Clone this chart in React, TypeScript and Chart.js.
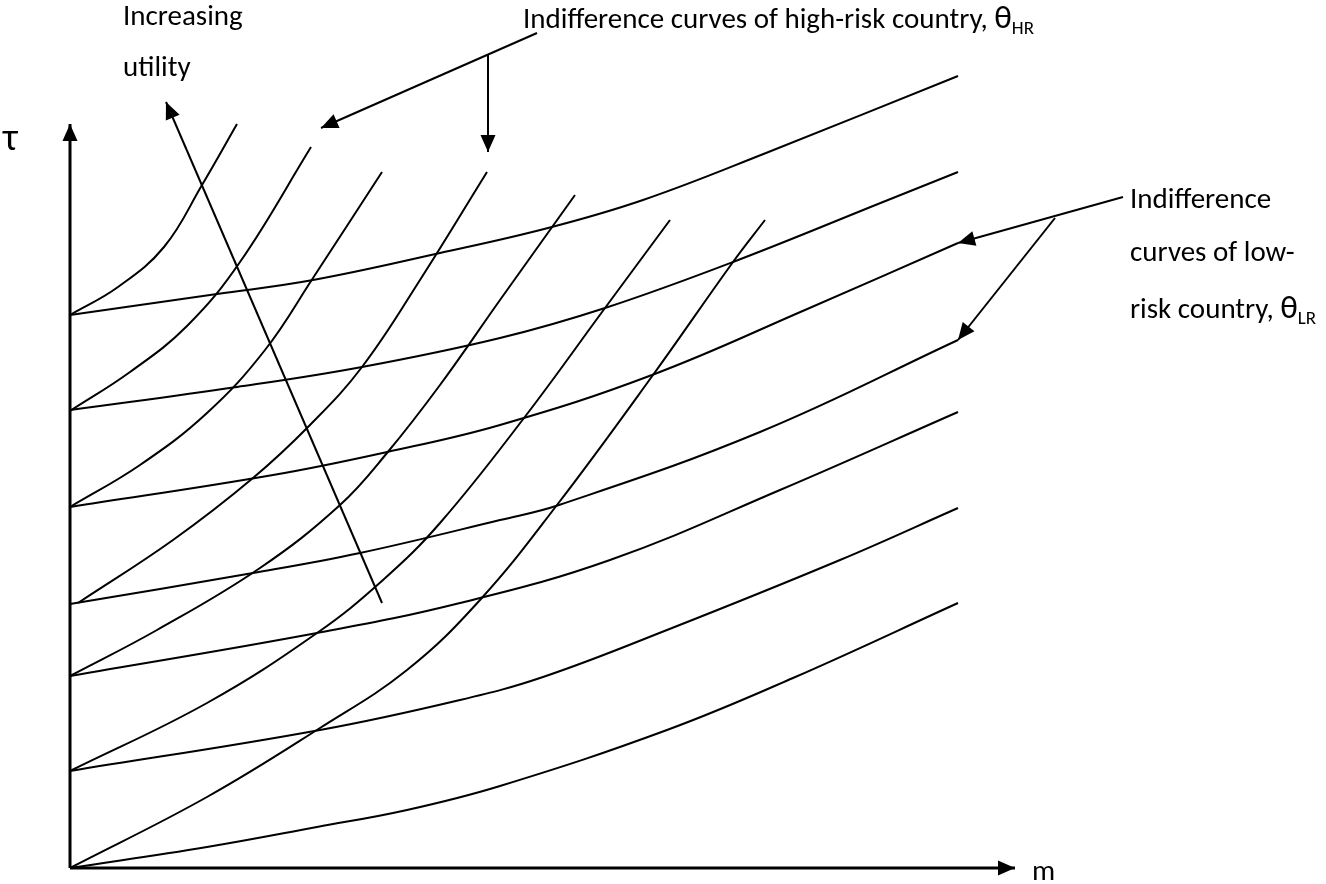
import { useEffect, useRef } from 'react';
import { Chart, registerables } from 'chart.js';

Chart.register(...registerables);

// ---------- data (m on the horizontal axis, tau on the vertical axis) ----------
// Low-risk country indifference curves (flatter)
const L1_M = [0, 1.47, 2.43, 3.7, 4.78, 5.73, 6.96, 8.88];
const L1_T = [5.53, 5.74, 5.88, 6.15, 6.4, 6.68, 7.15, 7.92];
const L2_M = [0, 1.67, 2.92, 4.3, 5.35, 6.63, 8.18, 8.88];
const L2_T = [4.58, 4.81, 5.01, 5.3, 5.6, 6.06, 6.68, 6.96];
const L3_M = [0, 2.03, 3.17, 4.3, 5.82, 7.35, 8.88];
const L3_T = [3.61, 3.93, 4.16, 4.43, 4.93, 5.58, 6.25];
const L4_M = [0, 1.83, 2.9, 4.3, 4.89, 6.9, 8.88];
const L4_T = [2.64, 2.95, 3.15, 3.48, 3.63, 4.36, 5.28];
const L5_M = [0, 2.47, 3.9, 5.4, 7.1, 8.88];
const L5_T = [1.92, 2.35, 2.65, 3.08, 3.78, 4.56];
const L6_M = [0, 2.5, 3.9, 4.73, 5.97, 7.7, 8.88];
const L6_T = [0.97, 1.38, 1.68, 1.91, 2.38, 3.08, 3.6];
const L7_M = [0, 1.37, 2.47, 3.37, 4.3, 5.97, 7.23, 8.88];
const L7_T = [0, 0.21, 0.41, 0.58, 0.82, 1.38, 1.9, 2.65];

// High-risk country indifference curves (steeper)
const H1_M = [0, 0.48, 0.94, 1.32, 1.67];
const H1_T = [5.53, 5.81, 6.21, 6.83, 7.44];
const H2_M = [0, 0.6, 1.17, 1.7, 2.41];
const H2_T = [4.57, 4.96, 5.42, 6.06, 7.21];
const H3_M = [0, 0.7, 1.37, 1.95, 2.43, 3.12];
const H3_T = [3.61, 4.03, 4.55, 5.18, 5.9, 6.96];
const H4_M = [0.08, 1.03, 1.83, 2.4, 2.92, 3.5, 4.17];
const H4_T = [2.65, 3.28, 3.9, 4.43, 5.01, 5.88, 6.96];
const H5_M = [0, 0.87, 1.9, 2.7, 3.17, 3.7, 4.3, 5.05];
const H5_T = [1.92, 2.38, 3.0, 3.63, 4.15, 4.83, 5.68, 6.73];
const H6_M = [0, 1.37, 2.47, 3.13, 3.7, 4.54, 5.35, 6.0];
const H6_T = [0.97, 1.65, 2.35, 2.88, 3.45, 4.5, 5.6, 6.48];
const H7_M = [0, 1.37, 2.5, 3.37, 4.1, 4.87, 5.83, 6.63, 6.95];
const H7_T = [0, 0.71, 1.4, 1.98, 2.68, 3.63, 4.93, 6.06, 6.48];

// Axes and pointer arrows (start -> tip)
const Y_AXIS_M = [0, 0];
const Y_AXIS_T = [0, 7.44];
const X_AXIS_M = [0, 9.45];
const X_AXIS_T = [0, 0];
const UTILITY_ARROW_M = [3.12, 0.96];
const UTILITY_ARROW_T = [2.65, 7.66];
const HR_ARROW1_M = [4.67, 2.51];
const HR_ARROW1_T = [8.35, 7.4];
const HR_ARROW2_M = [4.18, 4.18];
const HR_ARROW2_T = [8.13, 7.16];
const LR_ARROW1_M = [10.53, 8.88];
const LR_ARROW1_T = [6.71, 6.25];
const LR_ARROW2_M = [9.85, 8.88];
const LR_ARROW2_T = [6.5, 5.28];

// Text labels
const LABEL_INCREASING = 'Increasing';
const LABEL_UTILITY = 'utility';
const LABEL_HR = 'Indifference curves of high-risk country, ';
const LABEL_LR1 = 'Indifference';
const LABEL_LR2 = 'curves of low-';
const LABEL_LR3 = 'risk country, ';
const THETA = 'θ';
const SUB_HR = 'HR';
const SUB_LR = 'LR';
const AXIS_TAU = 'τ';
const AXIS_M = 'm';

// ---------- view / styling ----------
const W = 1326;
const H = 884;
const X_MIN = -0.7;
const X_MAX = 12.56;
const Y_MIN = -0.16;
const Y_MAX = 8.68;
const FONT = "Carlito, Lato, 'Open Sans', sans-serif";
const TEXT_SIZE = 29;
const THETA_SIZE = 33;
const SUB_SIZE = 19;

type Seg = { t: string; size: number; dy?: number };
type Label = { m: number; tau: number; segs: Seg[] };

const LABELS: Label[] = [
  { m: 0.53, tau: 8.43, segs: [{ t: LABEL_INCREASING, size: TEXT_SIZE }] },
  { m: 0.53, tau: 7.92, segs: [{ t: LABEL_UTILITY, size: TEXT_SIZE }] },
  {
    m: 4.53,
    tau: 8.4,
    segs: [
      { t: LABEL_HR, size: TEXT_SIZE },
      { t: THETA, size: THETA_SIZE },
      { t: SUB_HR, size: SUB_SIZE, dy: 6 },
    ],
  },
  { m: 10.6, tau: 6.6, segs: [{ t: LABEL_LR1, size: TEXT_SIZE }] },
  { m: 10.6, tau: 6.07, segs: [{ t: LABEL_LR2, size: TEXT_SIZE }] },
  {
    m: 10.6,
    tau: 5.5,
    segs: [
      { t: LABEL_LR3, size: TEXT_SIZE },
      { t: THETA, size: THETA_SIZE },
      { t: SUB_LR, size: SUB_SIZE, dy: 6 },
    ],
  },
  { m: -0.67, tau: 7.18, segs: [{ t: AXIS_TAU, size: 38 }] },
  { m: 9.62, tau: -0.12, segs: [{ t: AXIS_M, size: TEXT_SIZE }] },
];

function pts(ms: number[], ts: number[]) {
  return ms.map((m, i) => ({ x: m, y: ts[i] }));
}

function curve(ms: number[], ts: number[]) {
  return {
    data: pts(ms, ts),
    borderColor: '#000',
    borderWidth: 2,
    pointRadius: 0,
    fill: false,
    tension: 0.4,
    clip: false as const,
  };
}

function arrow(ms: number[], ts: number[], width = 2) {
  return {
    data: pts(ms, ts),
    borderColor: '#000',
    borderWidth: width,
    pointRadius: 0,
    fill: false,
    tension: 0,
    clip: false as const,
    arrowHead: true,
  };
}

const arrowPlugin = {
  id: 'arrowHeads',
  afterDatasetsDraw(chart: any) {
    const ctx = chart.ctx;
    chart.data.datasets.forEach((ds: any, i: number) => {
      if (!ds.arrowHead) return;
      const meta = chart.getDatasetMeta(i);
      const n = meta.data.length;
      if (n < 2) return;
      const p1 = meta.data[n - 2];
      const p2 = meta.data[n - 1];
      const ang = Math.atan2(p2.y - p1.y, p2.x - p1.x);
      const len = 17;
      const half = 7.5;
      ctx.save();
      ctx.fillStyle = '#000';
      ctx.beginPath();
      ctx.moveTo(p2.x, p2.y);
      ctx.lineTo(
        p2.x - len * Math.cos(ang) + half * Math.sin(ang),
        p2.y - len * Math.sin(ang) - half * Math.cos(ang)
      );
      ctx.lineTo(
        p2.x - len * Math.cos(ang) - half * Math.sin(ang),
        p2.y - len * Math.sin(ang) + half * Math.cos(ang)
      );
      ctx.closePath();
      ctx.fill();
      ctx.restore();
    });
  },
};

const labelPlugin = {
  id: 'labels',
  afterDraw(chart: any) {
    const ctx = chart.ctx;
    const xs = chart.scales.x;
    const ys = chart.scales.y;
    ctx.save();
    ctx.fillStyle = '#000';
    ctx.textBaseline = 'alphabetic';
    ctx.textAlign = 'left';
    LABELS.forEach((lab) => {
      let x = xs.getPixelForValue(lab.m);
      const y = ys.getPixelForValue(lab.tau);
      lab.segs.forEach((s) => {
        ctx.font = `${s.size}px ${FONT}`;
        ctx.fillText(s.t, x, y + (s.dy || 0));
        x += ctx.measureText(s.t).width;
      });
    });
    ctx.restore();
  },
};

export default function App() {
  const ref = useRef<HTMLCanvasElement | null>(null);

  useEffect(() => {
    document.body.style.margin = '0';
    const canvas = ref.current;
    if (!canvas) return;
    const chart = new Chart(canvas, {
      type: 'line',
      data: {
        datasets: [
          curve(L1_M, L1_T),
          curve(L2_M, L2_T),
          curve(L3_M, L3_T),
          curve(L4_M, L4_T),
          curve(L5_M, L5_T),
          curve(L6_M, L6_T),
          curve(L7_M, L7_T),
          curve(H1_M, H1_T),
          curve(H2_M, H2_T),
          curve(H3_M, H3_T),
          curve(H4_M, H4_T),
          curve(H5_M, H5_T),
          curve(H6_M, H6_T),
          curve(H7_M, H7_T),
          arrow(Y_AXIS_M, Y_AXIS_T, 3),
          arrow(X_AXIS_M, X_AXIS_T, 3),
          arrow(UTILITY_ARROW_M, UTILITY_ARROW_T),
          arrow(HR_ARROW1_M, HR_ARROW1_T),
          arrow(HR_ARROW2_M, HR_ARROW2_T),
          arrow(LR_ARROW1_M, LR_ARROW1_T),
          arrow(LR_ARROW2_M, LR_ARROW2_T),
        ] as any,
      },
      options: {
        animation: false,
        responsive: false,
        maintainAspectRatio: false,
        layout: { padding: 0 },
        events: [],
        plugins: {
          legend: { display: false },
          tooltip: { enabled: false },
          title: { display: false },
        },
        scales: {
          x: { type: 'linear', min: X_MIN, max: X_MAX, display: false },
          y: { type: 'linear', min: Y_MIN, max: Y_MAX, display: false },
        },
      },
      plugins: [arrowPlugin, labelPlugin],
    });
    return () => chart.destroy();
  }, []);

  return (
    <div style={{ position: 'fixed', left: 0, top: 0, width: W, height: H, background: '#fff' }}>
      <canvas ref={ref} width={W} height={H} style={{ width: W, height: H, display: 'block' }} />
    </div>
  );
}
